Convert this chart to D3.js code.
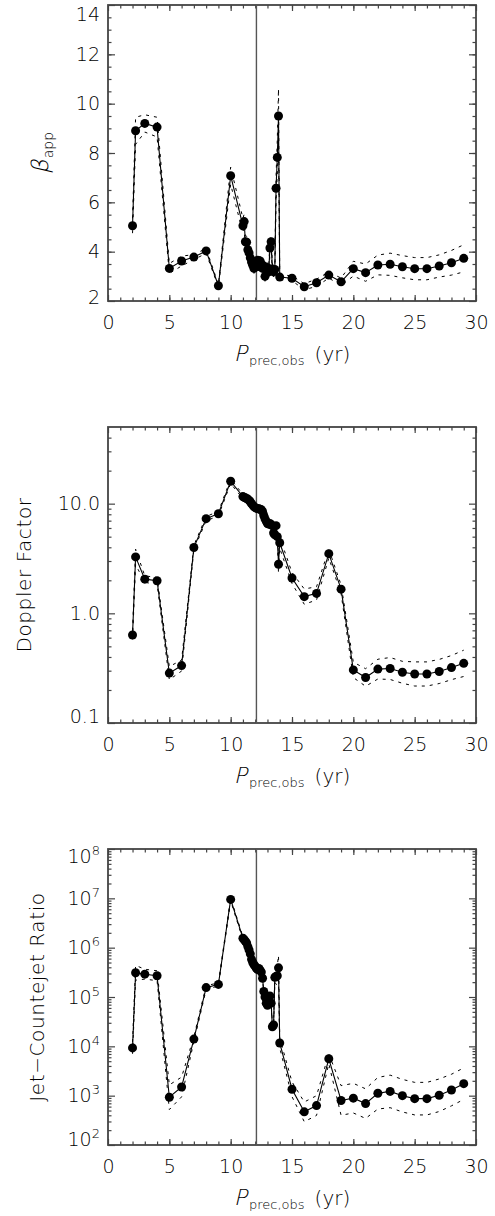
<!DOCTYPE html>
<html>
<head>
<meta charset="utf-8">
<script src="https://cdn.jsdelivr.net/npm/d3@7"></script>
<style>
body { margin: 0; background: #fff; }
svg text { font-family: "DejaVu Sans", sans-serif; font-weight: 200; fill: #000; }
.frame { fill: none; stroke: #444; stroke-width: 1.8; }
.axis path { display: none; }
.axis line { stroke: #444; stroke-width: 1.2; }
.axis text { font-size: 19px; }
.mark { stroke: #555; stroke-width: 1.4; }
.curve { fill: none; stroke: #000; stroke-width: 1.1; }
.err { fill: none; stroke: #000; stroke-width: 1; stroke-dasharray: 3,5; }
</style>
</head>
<body>
<script>
// observed precession period (yr)
const pObs = [2, 2.25, 3, 4, 5, 6, 7, 8, 9, 10,
    11.0, 11.1, 11.2, 11.3, 11.4, 11.5, 11.6, 11.7, 11.8, 11.9,
    12.0, 12.1, 12.2, 12.3, 12.4, 12.5, 12.6, 12.7, 12.8, 12.9,
    13.0, 13.1, 13.2, 13.3, 13.4, 13.5, 13.6, 13.7, 13.8, 13.9, 14.0,
    15, 16, 17, 18, 19, 20, 21, 22, 23, 24, 25, 26, 27, 28, 29];

const betaApp = [5.05, 8.9, 9.2, 9.05, 3.32, 3.62, 3.78, 4.03, 2.62, 7.08,
    5.05, 5.22, 4.40, 4.38, 4.08, 3.95, 3.75, 3.58, 3.45, 3.32,
    3.60, 3.45, 3.65, 3.40, 3.62, 3.50, 3.32, 3.42, 3.00, 3.28,
    3.35, 3.18, 4.15, 4.40, 3.30, 3.18, 3.28, 6.57, 7.82, 9.50, 2.97,
    2.92, 2.58, 2.74, 3.05, 2.78, 3.31, 3.15, 3.46, 3.49, 3.39, 3.31, 3.31, 3.42, 3.55, 3.73];
const betaErr = [0.3, 0.55, 0.35, 0.4, 0.2, 0.2, 0.1, 0.1, 0.05, 0.35,
    0.3, 0.3, 0.25, 0.25, 0.2, 0.2, 0.2, 0.2, 0.2, 0.2,
    0.2, 0.2, 0.2, 0.2, 0.2, 0.2, 0.2, 0.2, 0.2, 0.2,
    0.2, 0.2, 0.25, 0.25, 0.2, 0.2, 0.2, 0.5, 0.7, 1.1, 0.1,
    0.1, 0.12, 0.15, 0.12, 0.15, 0.3, 0.35, 0.4, 0.45, 0.45, 0.45, 0.45, 0.45, 0.5, 0.55];

const doppler = [0.635, 3.27, 2.05, 1.98, 0.285, 0.334, 3.98, 7.3, 8.1, 16.0,
    11.6, 11.4, 11.3, 11.1, 11.0, 10.7, 10.4, 10.0, 9.7, 9.4,
    9.2, 9.1, 9.0, 9.0, 8.9, 8.8, 8.5, 7.8, 7.3, 6.9,
    6.6, 6.5, 6.6, 6.4, 6.3, 5.4, 5.2, 6.3, 5.0, 2.8, 4.4,
    2.1, 1.42, 1.52, 3.5, 1.66, 0.305, 0.26, 0.31, 0.314, 0.29, 0.28, 0.28, 0.295, 0.32, 0.35];
// uncertainty in dex
const dopplerErr = [0.04, 0.07, 0.03, 0.03, 0.06, 0.05, 0.02, 0.02, 0.02, 0.02,
    0.02, 0.02, 0.02, 0.02, 0.02, 0.02, 0.02, 0.02, 0.02, 0.02,
    0.02, 0.02, 0.02, 0.02, 0.02, 0.02, 0.02, 0.02, 0.02, 0.02,
    0.02, 0.02, 0.02, 0.02, 0.02, 0.03, 0.03, 0.03, 0.04, 0.08, 0.05,
    0.05, 0.07, 0.06, 0.04, 0.04, 0.07, 0.08, 0.09, 0.1, 0.1, 0.11, 0.11, 0.11, 0.11, 0.12];

const jetRatio = [9.3e3, 3.1e5, 2.9e5, 2.7e5, 9.3e2, 1.5e3, 1.4e4, 1.55e5, 1.8e5, 9.5e6,
    1.55e6, 1.45e6, 1.35e6, 1.25e6, 1.05e6, 9.0e5, 7.5e5, 5.8e5, 5.0e5, 4.5e5,
    4.2e5, 3.8e5, 3.6e5, 3.8e5, 3.5e5, 3.2e5, 2.4e5, 1.3e5, 1.0e5, 7.5e4,
    6.8e4, 8.5e4, 1.05e5, 7.5e4, 2.5e4, 2.7e4, 2.5e5, 2.6e5, 2.7e5, 3.9e5, 1.17e4,
    1.35e3, 4.7e2, 6.3e2, 5.6e3, 8.0e2, 8.9e2, 6.9e2, 1.12e3, 1.22e3, 1.0e3, 8.7e2, 8.7e2, 1.02e3, 1.3e3, 1.75e3];
const jetRatioErr = [0.12, 0.15, 0.1, 0.1, 0.25, 0.2, 0.05, 0.04, 0.03, 0.03,
    0.03, 0.03, 0.03, 0.03, 0.03, 0.03, 0.03, 0.03, 0.03, 0.03,
    0.03, 0.03, 0.03, 0.03, 0.03, 0.03, 0.03, 0.03, 0.03, 0.03,
    0.03, 0.03, 0.03, 0.03, 0.05, 0.05, 0.1, 0.15, 0.2, 0.25, 0.1,
    0.15, 0.2, 0.2, 0.1, 0.3, 0.3, 0.3, 0.32, 0.33, 0.33, 0.33, 0.33, 0.33, 0.32, 0.32];

const pMark = 12.1;
const xTicks = [0, 5, 10, 15, 20, 25, 30];

const left = 108, plotW = 368, plotH = 296,
    panelTops = [5, 427, 849];

const svg = d3.select("body").append("svg").attr("width", 495).attr("height", 1216);

const x = d3.scaleLinear().domain([0, 30]).range([0, plotW]);

function logMinor(lo, hi) {
    const out = [];
    for (let e = Math.floor(Math.log10(lo)); e <= Math.ceil(Math.log10(hi)); e++)
        for (let k = 2; k <= 9; k++) {
            const v = k * Math.pow(10, e);
            if (v > lo && v < hi) out.push(v);
        }
    return out;
}

const panels = [
    {
        vals: betaApp,
        lo: betaApp.map((v, i) => v - betaErr[i]),
        hi: betaApp.map((v, i) => v + betaErr[i]),
        y: d3.scaleLinear().domain([2, 14]).range([plotH, 0]),
        major: [2, 4, 6, 8, 10, 12, 14],
        minor: d3.range(2.5, 14, 0.5),
        fmt: d3.format("d"),
        title: "beta", titleX: 48, shift: [-4, 9]
    },
    {
        vals: doppler,
        lo: doppler.map((v, i) => v / Math.pow(10, dopplerErr[i])),
        hi: doppler.map((v, i) => v * Math.pow(10, dopplerErr[i])),
        y: d3.scaleLog().domain([0.1, 50]).range([plotH, 0]),
        major: [0.1, 1, 10],
        minor: logMinor(0.1, 50),
        fmt: d3.format(".1f"),
        title: "Doppler Factor", titleX: 31, shift: [-7, 0]
    },
    {
        vals: jetRatio,
        lo: jetRatio.map((v, i) => v / Math.pow(10, jetRatioErr[i])),
        hi: jetRatio.map((v, i) => v * Math.pow(10, jetRatioErr[i])),
        y: d3.scaleLog().domain([1e2, 1e8]).range([plotH, 0]),
        major: [1e2, 1e3, 1e4, 1e5, 1e6, 1e7, 1e8],
        minor: logMinor(1e2, 1e8),
        fmt: null,
        title: "Jet\u2212Countejet Ratio", titleX: 44, shift: [-6, 7]
    }
];

// thin slanted glyph: skew the light face instead of using the heavier oblique face
function slanted(g, ch, size) {
    return g.append("text").style("font-size", size + "px").text(ch);
}

panels.forEach((cfg, pi) => {
    const g = svg.append("g").attr("transform", "translate(" + left + "," + panelTops[pi] + ")");
    const y = cfg.y;

    // axes: ticks on all four sides, pointing inward
    g.append("g").attr("class", "axis")
        .attr("transform", "translate(0," + plotH + ")")
        .call(d3.axisBottom(x).tickValues(xTicks).tickSize(-6).tickPadding(15).tickFormat(d3.format("d")));
    g.append("g").attr("class", "axis")
        .attr("transform", "translate(0," + plotH + ")")
        .call(d3.axisBottom(x).tickValues(d3.range(1, 30)).tickSize(-3.5).tickFormat(""));
    g.append("g").attr("class", "axis")
        .call(d3.axisTop(x).tickValues(xTicks).tickSize(-6).tickFormat(""));
    g.append("g").attr("class", "axis")
        .call(d3.axisTop(x).tickValues(d3.range(1, 30)).tickSize(-3.5).tickFormat(""));

    const yAx = g.append("g").attr("class", "axis")
        .call(d3.axisLeft(y).tickValues(cfg.major).tickSize(-7).tickPadding(8)
            .tickFormat(cfg.fmt ? cfg.fmt : ""));
    if (!cfg.fmt) {
        yAx.selectAll(".tick text").each(function(d) {
            const t = d3.select(this).text("10");
            t.append("tspan").attr("dy", "-0.62em").style("font-size", "13px").text(Math.round(Math.log10(d)));
        });
    }
    // IDL pulls the end labels inside the frame
    yAx.selectAll(".tick text").attr("transform", (d, i, n) =>
        i === 0 ? "translate(0," + cfg.shift[0] + ")" : (i === n.length - 1 ? "translate(0," + cfg.shift[1] + ")" : null));

    g.append("g").attr("class", "axis")
        .call(d3.axisLeft(y).tickValues(cfg.minor).tickSize(-3.5).tickFormat(""));
    g.append("g").attr("class", "axis")
        .attr("transform", "translate(" + plotW + ",0)")
        .call(d3.axisRight(y).tickValues(cfg.major).tickSize(-7).tickFormat(""));
    g.append("g").attr("class", "axis")
        .attr("transform", "translate(" + plotW + ",0)")
        .call(d3.axisRight(y).tickValues(cfg.minor).tickSize(-3.5).tickFormat(""));

    g.append("rect").attr("class", "frame").attr("width", plotW).attr("height", plotH);

    g.append("line").attr("class", "mark")
        .attr("x1", x(pMark)).attr("x2", x(pMark))
        .attr("y1", 0).attr("y2", plotH);

    const line = d3.line().x((d, i) => x(pObs[i])).y(d => y(d));

    g.append("path").attr("class", "err").attr("d", line(cfg.hi));
    g.append("path").attr("class", "err").attr("d", line(cfg.lo));
    g.append("path").attr("class", "curve").attr("d", line(cfg.vals));

    g.selectAll("circle.pt").data(cfg.vals).join("circle")
        .attr("class", "pt")
        .attr("cx", (d, i) => x(pObs[i]))
        .attr("cy", d => y(d))
        .attr("r", 4.5)
        .attr("fill", "#000");

    // y title
    const ytg = g.append("g")
        .attr("transform", "translate(" + (cfg.titleX - left) + "," + (plotH / 2) + ") rotate(-90)");
    if (cfg.title === "beta") {
        const b = slanted(ytg, "\u03b2", 23);
        const sub = ytg.append("text").style("font-size", "14px").attr("dy", 5).text("app");
        const bw = b.node().getComputedTextLength(), sw = sub.node().getComputedTextLength();
        const x0 = -(bw + sw + 1) / 2;
        b.attr("transform", "translate(" + x0 + ",0) skewX(-13)");
        sub.attr("x", x0 + bw + 1);
    } else {
        ytg.append("text")
            .attr("text-anchor", "middle")
            .style("font-size", "20px")
            .style("letter-spacing", "0.6px")
            .text(cfg.title);
    }

    // x title
    const xtg = g.append("g").attr("transform", "translate(0," + (plotH + 60) + ")");
    const p = slanted(xtg, "P", 22);
    const rest = xtg.append("text").style("font-size", "20px");
    rest.append("tspan").attr("dy", 4).style("font-size", "13px").text("prec,obs");
    rest.append("tspan").attr("dy", -4).text("\u2002(yr)");
    const pw = p.node().getComputedTextLength() + 2, rw = rest.node().getComputedTextLength();
    const x0 = plotW / 2 - (pw + rw) / 2;
    p.attr("transform", "translate(" + x0 + ",0) skewX(-13)");
    rest.attr("x", x0 + pw);
});
</script>
</body>
</html>
